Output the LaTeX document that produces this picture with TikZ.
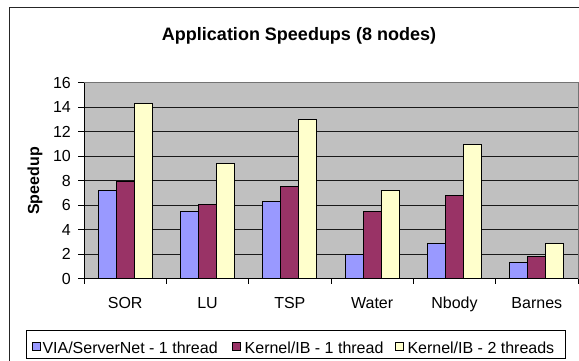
\documentclass[tikz,border=0pt]{standalone}
\usepackage{fontspec}
\setmainfont{Liberation Sans}
\definecolor{serA}{HTML}{9999FF}
\definecolor{serB}{HTML}{993366}
\definecolor{serC}{HTML}{FFFFCC}
\definecolor{plotbg}{HTML}{C0C0C0}
\begin{document}
\begin{tikzpicture}[x=1pt,y=-1pt,
  bar/.style={draw=black,line width=0.9pt},
  gridln/.style={black!90,line width=0.9pt},
  axisln/.style={black,line width=0.9pt},
  lab/.style={font=\fontsize{16}{18}\selectfont,inner sep=0pt},
  ticklab/.style={lab,anchor=base east},
  catlab/.style={lab,anchor=base},
  leglab/.style={lab,anchor=base west},
  legkey/.style={draw=black,line width=0.7pt}]
\useasboundingbox (0,0) rectangle (579,360);
\fill[white] (0,0) rectangle (579,360);
% chart frame (runs past the page on the right and bottom)
\draw[black!85,line width=1pt] (9,7) rectangle (600,380);

% plot area
\def\yz{278.7}
\def\unit{12.25}
\fill[plotbg] (84,82.7) rectangle (578,\yz);
\foreach \k in {1,...,7}{
  \pgfmathsetmacro\gy{\yz-\unit*2*\k}
  \draw[gridln] (84,\gy) -- (578,\gy);
}
\draw[black!55,line width=1pt] (84,82.7) -- (578,82.7) -- (578,\yz);

% value axis
\draw[axisln] (84,82.7) -- (84,\yz);
\foreach \k in {0,...,8}{
  \pgfmathsetmacro\gy{\yz-\unit*2*\k}
  \pgfmathtruncatemacro\v{2*\k}
  \draw[axisln] (78,\gy) -- (84,\gy);
  \node[ticklab] (tick\v) at (71,\gy+5.5) {\v};
}
\node[font=\bfseries\fontsize{16}{18}\selectfont,inner sep=0pt,rotate=90] (ylabel) at (35,181) {Speedup};

% bars
\foreach \i/\a/\b/\c/\name in {0/7.2/7.9/14.3/SOR, 1/5.5/6.1/9.4/LU, 2/6.3/7.5/13.0/TSP,
                              3/2.0/5.45/7.2/Water, 4/2.9/6.8/11.0/Nbody, 5/1.35/1.85/2.9/Barnes}{
  \pgfmathsetmacro\cx{84+82.333*(\i+0.5)}
  \pgfmathsetmacro\ya{\yz-\unit*\a}
  \pgfmathsetmacro\yb{\yz-\unit*\b}
  \pgfmathsetmacro\yc{\yz-\unit*\c}
  \draw[bar,fill=serA] (\cx-27,\yz) rectangle (\cx-9,\ya);
  \draw[bar,fill=serB] (\cx-9,\yz) rectangle (\cx+9,\yb);
  \draw[bar,fill=serC] (\cx+9,\yz) rectangle (\cx+27,\yc);
  \node[catlab] (cat\i) at (\cx,308.3) {\name};
}

% category axis
\draw[axisln] (84,\yz) -- (578,\yz);
\foreach \i in {0,...,6}{
  \pgfmathsetmacro\tx{84+82.333*\i}
  \draw[axisln] (\tx,\yz) -- (\tx,\yz+5);
}

% title
\node[font=\bfseries\fontsize{18}{20}\selectfont,inner sep=0pt,anchor=base] (title) at (299,40.5) {Application Speedups (8 nodes)};

% legend
\draw[black,line width=0.9pt,fill=white] (26.7,330.7) rectangle (565.3,358.3);
\draw[legkey,fill=serA] (32.3,342.3) rectangle (40.3,350.3);
\node[leglab] (legA) at (42.3,353.7) {VIA/ServerNet - 1 thread};
\draw[legkey,fill=serB] (232.7,342.3) rectangle (240.7,350.3);
\node[leglab] (legB) at (244.5,353.7) {Kernel/IB - 1 thread};
\draw[legkey,fill=serC] (395.7,342.3) rectangle (403.7,350.3);
\node[leglab] (legC) at (407.3,353.7) {Kernel/IB - 2 threads};
\end{tikzpicture}
\end{document}
